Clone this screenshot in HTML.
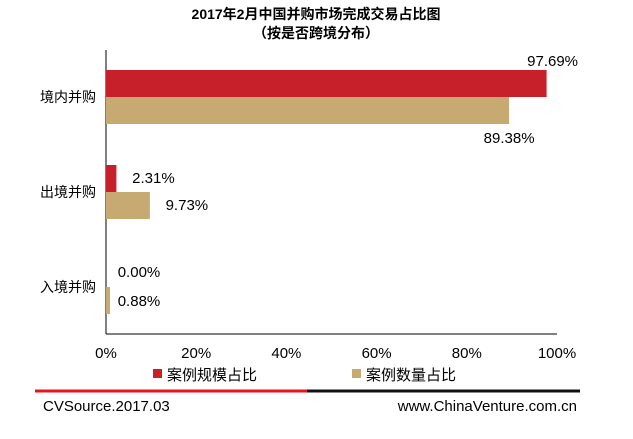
<!DOCTYPE html>
<html><head><meta charset="utf-8"><style>
body{margin:0;background:#fff;}
svg text{font-family:"Liberation Sans","Noto Sans CJK SC",sans-serif;}
</style></head><body>
<svg width="633" height="434" xmlns="http://www.w3.org/2000/svg">
<text x="316" y="19" text-anchor="middle" font-size="14" font-weight="bold">2017年2月中国并购市场完成交易占比图</text>
<text x="316" y="38" text-anchor="middle" font-size="14" font-weight="bold">（按是否跨境分布）</text>
<g id="plot"></g>
<rect x="153" y="369" width="9" height="9" fill="#c8202a"/>
<text x="167" y="380" font-size="15">案例规模占比</text>
<rect x="352" y="369" width="9" height="9" fill="#c6aa72"/>
<text x="366" y="380" font-size="15">案例数量占比</text>
<line x1="35" y1="391" x2="307" y2="391" stroke="#e8141c" stroke-width="3"/>
<line x1="307" y1="391" x2="580" y2="391" stroke="#111" stroke-width="3"/>
<text x="43" y="411" font-size="15">CVSource.2017.03</text>
<text x="577" y="411" font-size="15" text-anchor="end">www.ChinaVenture.com.cn</text>
</svg>
<script>
const categories=["境内并购","出境并购","入境并购"];
const scaleValues=[97.69,2.31,0.00];
const countValues=[89.38,9.73,0.88];
const ticks=[0,20,40,60,80,100];
const ns="http://www.w3.org/2000/svg";
const g=document.getElementById("plot");
const x0=106,xw=451,plotTop=50,plotBottom=334;
const xs=v=>x0+v/100*xw;
const bandC=i=>97+i*95;
function mk(t,a,txt){const e=document.createElementNS(ns,t);for(const k in a)e.setAttribute(k,a[k]);if(txt!==undefined)e.textContent=txt;g.appendChild(e);return e;}
let ax=mk("line",{x1:x0,y1:plotTop,x2:x0,y2:plotBottom,stroke:"#000","stroke-width":1});


let bx=mk("line",{x1:x0,y1:plotBottom,x2:x0+xw,y2:plotBottom,stroke:"#000","stroke-width":1});


ticks.forEach(t=>{
  const e=mk("text",{x:xs(t),y:358,"text-anchor":"middle","font-size":15},t+"%");
  
  
});
categories.forEach((c,i)=>{
  const cy=bandC(i);
  const l=mk("text",{x:96,y:cy+5,"text-anchor":"end","font-size":14},c);
  
  
  const r=mk("rect",{x:x0,y:cy-27,width:Math.max(0,xs(scaleValues[i])-x0),height:27,fill:"#c8202a"});
  
  
  const b=mk("rect",{x:x0,y:cy,width:Math.max(0,xs(countValues[i])-x0),height:27,fill:"#c6aa72"});
  
  
  let sx,sy,cx2,cy2;
  if(scaleValues[i]>50){sx=xs(scaleValues[i])+6;sy=cy-31;}else{sx=xs(scaleValues[i])+37;sy=cy-9;}
  if(countValues[i]>50){cx2=xs(countValues[i]);cy2=cy+46;}else{cx2=xs(countValues[i])+37;cy2=cy+18;}
  if(i===2){sx=x0+33;sy=cy-10;cx2=x0+33;cy2=cy+19;}
  const s1=mk("text",{x:sx,y:sy,"text-anchor":"middle","font-size":15},scaleValues[i].toFixed(2)+"%");
  
  
  const s2=mk("text",{x:cx2,y:cy2,"text-anchor":"middle","font-size":15},countValues[i].toFixed(2)+"%");
  
  
});
</script>
</body></html>
